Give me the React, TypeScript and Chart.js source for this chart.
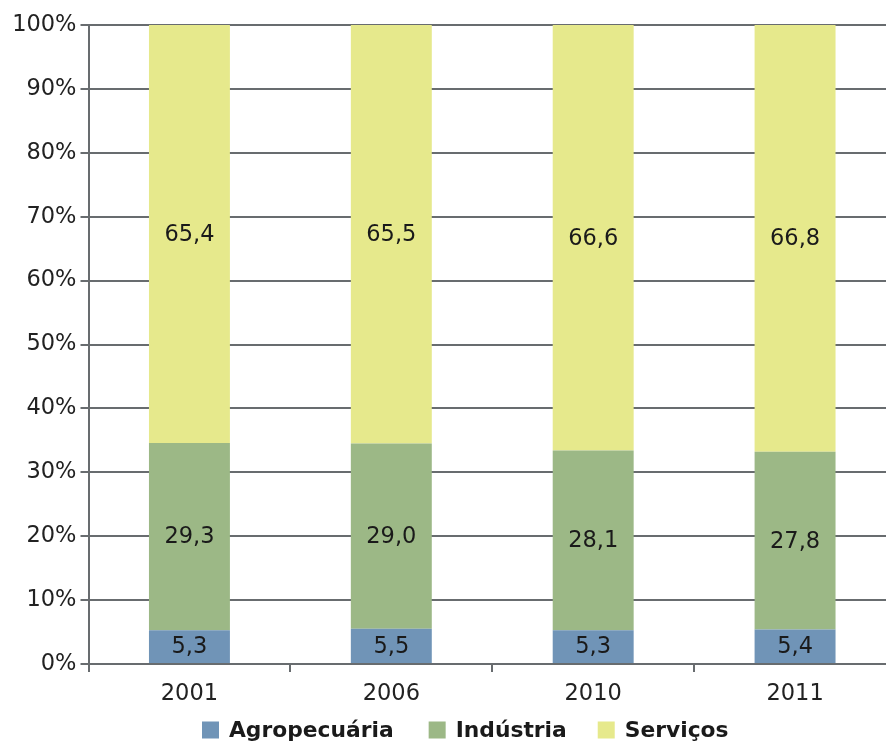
import React, { useEffect, useRef } from "react";
import { Chart, registerables } from "chart.js";

Chart.register(...registerables);

const categories = ["2001", "2006", "2010", "2011"];
const agropecuaria = [5.3, 5.5, 5.3, 5.4];
const industria = [29.3, 29.0, 28.1, 27.8];
const servicos = [65.4, 65.5, 66.6, 66.8];
const seriesNames = ["Agropecuária", "Indústria", "Serviços"];
const seriesColors = ["#7094B7", "#9CB886", "#E6E98C"];

const FONT = "'DejaVu Sans', Verdana, sans-serif";
const GRID = "#686C6F";

const valueLabels = {
  id: "valueLabels",
  afterDatasetsDraw(chart: any) {
    const ctx = chart.ctx;
    ctx.save();
    ctx.font = `22.5px ${FONT}`;
    ctx.fillStyle = "#1a1a1a";
    ctx.textAlign = "center";
    ctx.textBaseline = "middle";
    chart.data.datasets.forEach((ds: any, di: number) => {
      const meta = chart.getDatasetMeta(di);
      meta.data.forEach((bar: any, i: number) => {
        const v = ds.data[i] as number;
        const yc = (bar.y + bar.base) / 2;
        ctx.fillText(v.toFixed(1).replace(".", ","), bar.x, yc + 1);
      });
    });
    ctx.restore();
  },
};

const customLegend = {
  id: "customLegend",
  afterDraw(chart: any) {
    const ctx = chart.ctx;
    ctx.save();
    ctx.font = `bold 21.8px ${FONT}`;
    ctx.textBaseline = "middle";
    ctx.textAlign = "left";
    const box = 17;
    const gap = 10;
    const itemGaps = [35, 31];
    let x = 202;
    const yc = 730;
    chart.data.datasets.forEach((ds: any, i: number) => {
      const w = ctx.measureText(ds.label).width;
      ctx.fillStyle = ds.backgroundColor;
      ctx.fillRect(x, yc - box / 2, box, box);
      ctx.fillStyle = "#1a1a1a";
      ctx.fillText(ds.label, x + box + gap, yc + 1);
      x += box + gap + w + (itemGaps[i] || 0);
    });
    ctx.restore();
  },
};

export default function App() {
  const ref = useRef<HTMLCanvasElement>(null);
  useEffect(() => {
    document.body.style.margin = "0";
    const data = [agropecuaria, industria, servicos];
    const chart = new Chart(ref.current!, {
      type: "bar",
      data: {
        labels: categories,
        datasets: seriesNames.map((n, i) => ({
          label: n,
          data: data[i],
          backgroundColor: seriesColors[i],
          borderWidth: 0,
          categoryPercentage: 1,
          barPercentage: 0.401,
        })),
      },
      options: {
        responsive: false,
        animation: false,
        layout: { padding: { top: 25, right: 0, left: 0, bottom: 40 } },
        plugins: {
          legend: { display: false },
          tooltip: { enabled: false },
        },
        scales: {
          x: {
            stacked: true,
            grid: {
              drawOnChartArea: false,
              drawTicks: true,
              tickLength: 8,
              color: GRID,
              lineWidth: 2,
            },
            border: { color: GRID, width: 2 },
            ticks: {
              font: { family: FONT, size: 22.5 },
              color: "#222",
              padding: 9,
            },
            afterFit(scale: any) {
              scale.height = 40;
            },
          },
          y: {
            stacked: true,
            min: 0,
            max: 100,
            grid: {
              color: GRID,
              lineWidth: 2,
              tickLength: 8,
            },
            border: { color: GRID, width: 2 },
            ticks: {
              stepSize: 10,
              font: { family: FONT, size: 22.5 },
              color: "#222",
              padding: 4,
              callback: (v: any) => v + "%",
            },
            afterFit(scale: any) {
              scale.width = 88.5;
            },
          },
        },
      },
      plugins: [valueLabels, customLegend],
    });
    return () => chart.destroy();
  }, []);
  return (
    <div style={{ width: 886, height: 744, overflow: "hidden" }}>
      <canvas ref={ref} width={896} height={744} style={{ display: "block" }} />
    </div>
  );
}
